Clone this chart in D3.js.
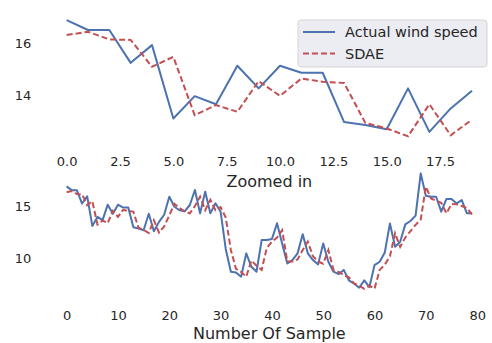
<!DOCTYPE html>
<html>
<head>
<meta charset="utf-8">
<script src="https://cdnjs.cloudflare.com/ajax/libs/d3/7.8.5/d3.min.js"></script>
<style>
  body { margin: 0; background: #fff; }
  text { font-family: "DejaVu Sans", sans-serif; fill: #262626; }
</style>
</head>
<body>
<div id="chart"></div>
<script>
var width = 492;
var height = 343;

// actual wind speed, all 80 samples (first 20 are the zoomed part)
var actual = [16.88, 16.5, 16.5, 15.24, 15.92, 13.1, 13.96, 13.65, 15.13, 14.26,
    15.13, 14.86, 14.86, 12.97, 12.85, 12.69, 14.26, 12.59, 13.49, 14.17,
    15.89, 14.93, 14.6, 14.5, 15.1, 16.53, 14.3, 16.37, 14.3, 15.26,
    14.46, 10.9, 8.73, 8.66, 8.25, 10.48, 9.2, 8.73, 11.75, 11.75,
    11.85, 13.35, 11.4, 9.52, 9.84, 10.48, 12.3, 10.48, 9.84, 9.43,
    11.43, 9.68, 8.73, 8.5, 8.9, 7.9, 7.6, 7.2, 7.9, 7.25,
    9.36, 9.68, 10.57, 13.34, 11.11, 11.59, 13.25, 13.57, 14.08, 18.12,
    15.99, 15.89, 15.89, 14.46, 15.67, 15.67, 15.25, 15.57, 14.3, 14.3];

// SDAE prediction
var sdae = [16.31, 16.43, 16.14, 16.12, 15.09, 15.47, 13.23, 13.62, 13.36, 14.54,
    13.97, 14.64, 14.51, 14.47, 12.93, 12.72, 12.42, 13.65, 12.46, 13.06,
    14.1, 15.2, 14.8, 14.5, 14.3, 15.0, 15.9, 14.6, 15.6, 14.6,
    14.9, 13.9, 10.8, 9.0, 8.7, 8.25, 9.8, 9.3, 8.9, 11.0,
    11.6, 12.0, 12.7, 9.7, 9.7, 9.9, 10.8, 11.6, 10.2, 9.7,
    9.5, 10.8, 8.9, 8.7, 8.4, 8.2, 7.6, 7.4, 7.1, 7.4,
    7.1, 8.9, 9.4, 10.2, 12.4, 11.1, 12.0, 12.6, 13.2, 13.7,
    16.85, 15.73, 15.5, 15.3, 14.3, 15.2, 15.16, 15.0, 14.8, 14.2];

var zoomCount = 20;
var seriesNames = ["Actual wind speed", "SDAE"];
var topXTicks = [0, 2.5, 5, 7.5, 10, 12.5, 15, 17.5];
var topYTicks = [14, 16];
var botXTicks = [0, 10, 20, 30, 40, 50, 60, 70, 80];
var botYTicks = [10, 15];

var blue = "#4c72b0";
var red = "#c44e52";

var svg = d3.select("#chart")
    .append("svg")
    .attr("width", width)
    .attr("height", height);

var left = 46.4, right = 492.3;

// draws one panel
function panel(a, s, top, bottom, xDomain, yDomain, xTicks, yTicks, xFmt, xPad, label, labelY) {
    var x = d3.scaleLinear().domain(xDomain).range([left, right]);
    var y = d3.scaleLinear().domain(yDomain).range([bottom, top]);

    var xAxis = svg.append("g")
        .attr("transform", "translate(0," + bottom + ")")
        .call(d3.axisBottom(x).tickValues(xTicks).tickSize(0).tickPadding(xPad).tickFormat(xFmt));
    xAxis.select(".domain").remove();
    xAxis.selectAll("text").style("font-size", "13px").style("font-family", "DejaVu Sans").attr("fill", "#262626");

    var yAxis = svg.append("g")
        .attr("transform", "translate(" + left + ",0)")
        .call(d3.axisLeft(y).tickValues(yTicks).tickSize(0).tickPadding(15).tickFormat(d3.format("d")));
    yAxis.select(".domain").remove();
    yAxis.selectAll("text").style("font-size", "13px").style("font-family", "DejaVu Sans").attr("fill", "#262626");

    var line = d3.line()
        .x(function (d, i) { return x(i); })
        .y(function (d) { return y(d); });

    svg.append("path")
        .attr("d", line(a))
        .attr("fill", "none")
        .attr("stroke", blue)
        .attr("stroke-width", 2)
        .attr("stroke-linejoin", "round");

    svg.append("path")
        .attr("d", line(s))
        .attr("fill", "none")
        .attr("stroke", red)
        .attr("stroke-width", 2)
        .attr("stroke-dasharray", "6,3");

    svg.append("text")
        .attr("x", (left + right) / 2)
        .attr("y", labelY)
        .attr("text-anchor", "middle")
        .style("font-size", "16px")
        .text(label);
}

panel(actual.slice(0, zoomCount), sdae.slice(0, zoomCount), 14.4, 142,
    [-0.95, 19.95], [12.2, 17.1], topXTicks, topYTicks, d3.format(".1f"), 15, "Zoomed in", 187);

panel(actual, sdae, 167.3, 294,
    [-3.95, 82.95], [6.6, 18.7], botXTicks, botYTicks, d3.format("d"), 16.5, "Number Of Sample", 339);

// legend
var lg = svg.append("g").attr("transform", "translate(298,20)");
lg.append("rect")
    .attr("width", 189)
    .attr("height", 47)
    .attr("rx", 3)
    .attr("fill", "#eaeaf2")
    .attr("fill-opacity", 0.9)
    .attr("stroke", "#d5d5d5");

seriesNames.forEach(function (name, i) {
    var yy = 12 + i * 21.5;
    lg.append("line")
        .attr("x1", 5).attr("x2", 37)
        .attr("y1", yy).attr("y2", yy)
        .attr("stroke", i == 0 ? blue : red)
        .attr("stroke-width", 2)
        .attr("stroke-dasharray", i == 0 ? null : "6,3");
    lg.append("text")
        .attr("x", 47)
        .attr("y", yy + 5)
        .style("font-size", "14.5px")
        .text(name);
});
</script>
</body>
</html>
